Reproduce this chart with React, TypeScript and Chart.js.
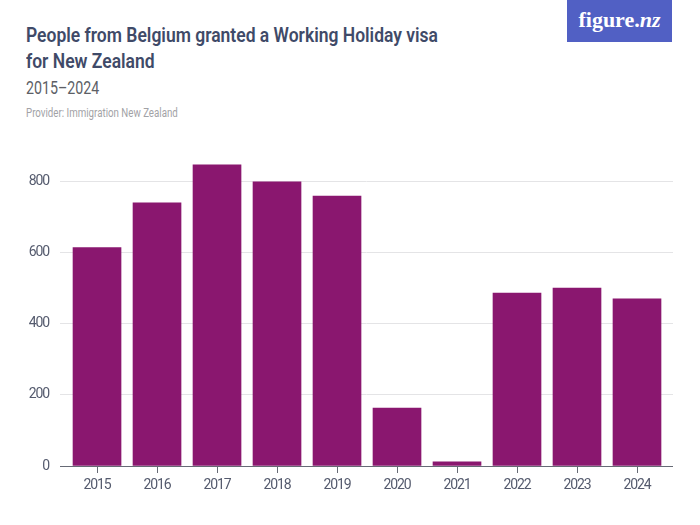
import { useEffect, useRef } from "react";
import { Chart, registerables } from "chart.js";

Chart.register(...registerables);

const years = [2015, 2016, 2017, 2018, 2019, 2020, 2021, 2022, 2023, 2024];
const visas = [615, 741, 848, 800, 760, 163, 12, 487, 501, 471];
const yTicks = [0, 200, 400, 600, 800];

const FONT = 'Roboto, sans-serif';

// the original typeface is condensed, nothing installed is, so tighten the canvas text
const tightText = {
  id: "tightText",
  beforeDraw(chart: Chart) {
    (chart.ctx as any).letterSpacing = "-1.1px";
  },
};

function Squeezed({ left, top, scale, style, children }: any) {
  return (
    <div
      style={{
        position: "absolute",
        left,
        top,
        whiteSpace: "nowrap",
        fontFamily: FONT,
        transform: `scaleX(${scale})`,
        transformOrigin: "left top",
        ...style,
      }}
    >
      {children}
    </div>
  );
}

export default function App() {
  const canvasRef = useRef<HTMLCanvasElement>(null);

  useEffect(() => {
    if (!canvasRef.current) return;
    document.body.style.margin = "0";
    const chart = new Chart(canvasRef.current, {
      type: "bar",
      data: {
        datasets: [
          {
            data: years.map((y, i) => ({ x: y, y: visas[i] })),
            backgroundColor: "#8a176f",
            barThickness: 48,
          },
        ],
      },
      plugins: [tightText],
      options: {
        animation: false,
        responsive: false,
        plugins: { legend: { display: false }, tooltip: { enabled: false } },
        scales: {
          x: {
            type: "linear",
            offset: false,
            min: 2014.383,
            max: 2024.6,
            afterBuildTicks: (axis) => {
              axis.ticks = years.map((value) => ({ value }));
            },
            afterFit: (axis) => {
              axis.height = 34;
            },
            grid: {
              offset: false,
              drawOnChartArea: false,
              tickLength: 7,
              tickColor: "#666a75",
            },
            border: { color: "#666a75", width: 1 },
            ticks: {
              autoSkip: false,
              maxRotation: 0,
              padding: 4,
              color: "#555b6e",
              font: { family: FONT, size: 14 },
              callback: (v) => String(v),
            },
          },
          y: {
            min: 0,
            max: 860.6,
            afterBuildTicks: (axis) => {
              axis.ticks = yTicks.map((value) => ({ value }));
            },
            afterFit: (axis) => {
              axis.width = 60;
            },
            grid: { color: "#e4e4e6", drawTicks: false },
            border: { display: false },
            ticks: {
              padding: 11,
              color: "#555b6e",
              font: { family: FONT, size: 14 },
              callback: (v) => String(v),
            },
          },
        },
      },
    });
    return () => chart.destroy();
  }, []);

  const titleStyle = { fontWeight: 600, fontSize: 20, lineHeight: "26px", color: "#3f4a68" };

  return (
    <div style={{ position: "relative", width: 700, height: 525, background: "#fff", overflow: "hidden" }}>
      <Squeezed left={26} top={22} scale={0.875} style={titleStyle}>
        People from Belgium granted a Working Holiday visa
      </Squeezed>
      <Squeezed left={26} top={48} scale={0.875} style={titleStyle}>
        for New Zealand
      </Squeezed>
      <Squeezed left={26} top={77} scale={0.79} style={{ fontSize: 18, color: "#5d5f66" }}>
        2015–2024
      </Squeezed>
      <Squeezed left={26} top={106} scale={0.81} style={{ fontSize: 12, color: "#a2a2a6" }}>
        Provider: Immigration New Zealand
      </Squeezed>
      <div
        style={{
          position: "absolute",
          left: 567,
          top: 0,
          width: 105,
          height: 42,
          background: "#5160c4",
          color: "#fff",
          fontFamily: '"Liberation Serif", serif',
          fontWeight: 700,
          fontSize: 22,
          lineHeight: "40px",
          textAlign: "center",
        }}
      >
        figure.<i>nz</i>
      </div>
      <div style={{ position: "absolute", left: 0, top: 141, width: 673, height: 359 }}>
        <canvas ref={canvasRef} width={673} height={359} style={{ display: "block" }} />
      </div>
    </div>
  );
}
